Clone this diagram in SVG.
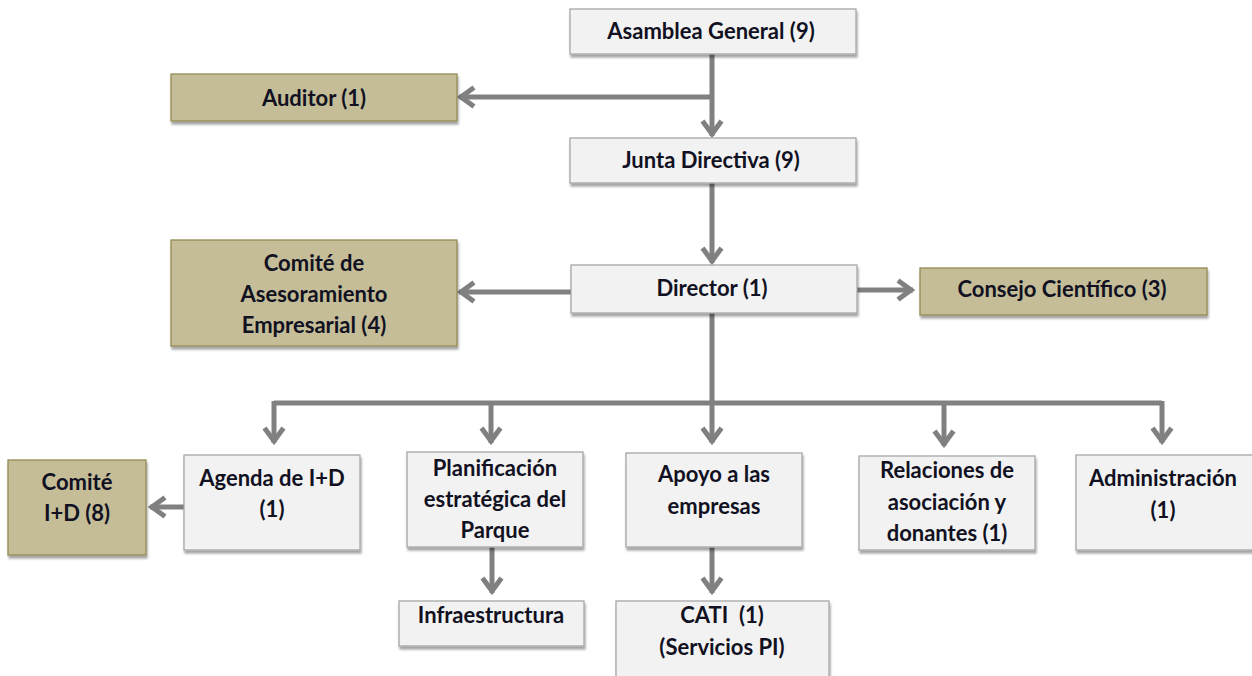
<svg xmlns="http://www.w3.org/2000/svg" width="1252" height="676" viewBox="0 0 1252 676">
<defs>
<filter id="sh" x="-5%" y="-5%" width="115%" height="130%">
<feDropShadow dx="1" dy="3" stdDeviation="1.2" flood-color="#000" flood-opacity="0.35"/>
</filter>
<marker id="ah" viewBox="0 0 20 24" refX="18" refY="12" markerWidth="20" markerHeight="24" markerUnits="userSpaceOnUse" orient="auto">
<path d="M3,2.5 L16,12 L3,21.5" fill="none" stroke="#808080" stroke-width="5" stroke-linejoin="miter"/>
</marker>
</defs>
<style>
.g{fill:#f2f2f2;stroke:#a6a6a6;stroke-width:1.3;filter:url(#sh)}
.o{fill:#c4bd97;stroke:#948a54;stroke-width:1.3;filter:url(#sh)}
text{font-family:Lato,"Open Sans","Liberation Sans",sans-serif;font-weight:bold;font-size:22px;fill:#111122;text-anchor:middle;dominant-baseline:central}
.c line,.c polyline{stroke:#808080;stroke-width:5;fill:none}
.a{marker-end:url(#ah)}
</style>
<rect width="1252" height="676" fill="#fff"/>
<g class="c" id="connectors">
<line x1="712" y1="54" x2="712" y2="136" class="a"/>
<line x1="714" y1="97" x2="459" y2="97" class="a"/>
<line x1="712" y1="183" x2="712" y2="263" class="a"/>
<line x1="571" y1="292" x2="459" y2="292" class="a"/>
<line x1="857" y1="290" x2="913" y2="290" class="a"/>
<line x1="712" y1="313" x2="712" y2="443" class="a"/>
<polyline points="274,403 1162,403"/>
<line x1="274" y1="401" x2="274" y2="443" class="a"/>
<line x1="1162" y1="401" x2="1162" y2="443" class="a"/>
<line x1="491" y1="403" x2="491" y2="443" class="a"/>
<line x1="944" y1="403" x2="944" y2="446" class="a"/>
<line x1="184" y1="507" x2="150" y2="507" class="a"/>
<line x1="492" y1="547" x2="492" y2="593" class="a"/>
<line x1="712" y1="547" x2="712" y2="593" class="a"/>
</g>
<g id="asamblea"><rect class="g" x="570" y="9" width="286" height="45"/><text x="711" y="30">Asamblea General (9)</text></g>
<g id="auditor"><rect class="o" x="171" y="74" width="286" height="47"/><text x="314" y="97">Auditor (1)</text></g>
<g id="junta"><rect class="g" x="570" y="138" width="286" height="45"/><text x="711" y="159">Junta Directiva (9)</text></g>
<g id="comite-asesoramiento"><rect class="o" x="171" y="240" width="286" height="106"/><text x="314" y="262">Comité de</text><text x="314" y="293">Asesoramiento</text><text x="314" y="324">Empresarial (4)</text></g>
<g id="director"><rect class="g" x="571" y="265" width="286" height="48"/><text x="712" y="287">Director (1)</text></g>
<g id="consejo"><rect class="o" x="920" y="268" width="287" height="47"/><text x="1062" y="288">Consejo Científico (3)</text></g>
<g id="comite-id"><rect class="o" x="8" y="460" width="138" height="95"/><text x="77" y="481">Comité</text><text x="77" y="512">I+D (8)</text></g>
<g id="agenda"><rect class="g" x="184" y="455" width="176" height="95"/><text x="272" y="477">Agenda de I+D</text><text x="272" y="508">(1)</text></g>
<g id="planificacion"><rect class="g" x="407" y="452" width="176" height="95"/><text x="495" y="467">Planificación</text><text x="495" y="498">estratégica del</text><text x="495" y="529">Parque</text></g>
<g id="apoyo"><rect class="g" x="626" y="453" width="176" height="94"/><text x="714" y="473">Apoyo a las</text><text x="714" y="505">empresas</text></g>
<g id="relaciones"><rect class="g" x="859" y="456" width="176" height="94"/><text x="947" y="469">Relaciones de</text><text x="947" y="501">asociación y</text><text x="947" y="532">donantes (1)</text></g>
<g id="administracion"><rect class="g" x="1076" y="455" width="180" height="95"/><text x="1163" y="477">Administración</text><text x="1163" y="509">(1)</text></g>
<g id="infraestructura"><rect class="g" x="399" y="601" width="185" height="45"/><text x="491" y="614">Infraestructura</text></g>
<g id="cati"><rect class="g" x="616" y="601" width="213" height="80"/><text x="722" y="614" xml:space="preserve">CATI  (1)</text><text x="722" y="646">(Servicios PI)</text></g>
</svg>
